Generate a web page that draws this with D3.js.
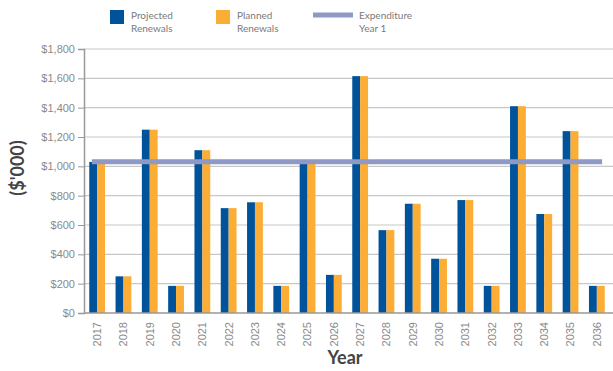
<!DOCTYPE html>
<html><head><meta charset="utf-8">
<script src="https://cdn.jsdelivr.net/npm/d3@7"></script>
<style>body{margin:0;background:#fff}svg{display:block;font-family:Lato,"Open Sans",sans-serif}</style>
</head><body><svg id="c" width="613" height="371"></svg>
<script>
const years = ["2017","2018","2019","2020","2021","2022","2023","2024","2025","2026","2027","2028","2029","2030","2031","2032","2033","2034","2035","2036"];
const projected = [1030,250,1250,185,1110,715,755,185,1025,260,1615,565,745,370,770,185,1410,675,1240,185];
const planned   = [1030,250,1250,185,1110,715,755,185,1025,260,1615,565,745,370,770,185,1410,675,1240,185];
const expenditureYear1 = 1031;
const yTicks = [0,200,400,600,800,1000,1200,1400,1600,1800];
const seriesNames = ["Projected\nRenewals","Planned\nRenewals","Expenditure\nYear 1"];
const colors = ["#00539b","#fbad35","#8e99c6"];

(function(){
const svg = d3.select("#c");
const pLeft = 84, pRight = 610, pTop = 49, pBottom = 313;
const x = d3.scaleBand().domain(years).range([pLeft, pRight]).paddingInner(0.4).paddingOuter(0.2);
const xs = d3.scaleBand().domain([0,1]).range([0, x.bandwidth()]);
const y = d3.scaleLinear().domain([0,1800]).range([pBottom, pTop]);

svg.append("g").selectAll("line").data(yTicks.slice(1)).join("line")
  .attr("x1", pLeft).attr("x2", 613).attr("y1", d=>y(d)).attr("y2", d=>y(d))
  .attr("stroke", "#c8c8c8").attr("stroke-width", 1.2);

const g = svg.append("g");
[projected, planned].forEach((s, i) => {
  g.selectAll(".b"+i).data(s).join("rect").attr("class","b"+i)
    .attr("x", (d,j)=>x(years[j]) + xs(i)).attr("width", xs.bandwidth())
    .attr("y", d=>y(d)).attr("height", d=>pBottom - y(d)).attr("fill", colors[i]);
});

svg.append("line")
  .attr("x1", x(years[0]) - x.step()*x.paddingInner()/2 + 0.3*x.step())
  .attr("x2", x(years[years.length-1]) - x.step()*x.paddingInner()/2 + 0.7*x.step())
  .attr("y1", y(expenditureYear1)).attr("y2", y(expenditureYear1))
  .attr("stroke", colors[2]).attr("stroke-width", 5);

const ya = svg.append("g").attr("transform", `translate(${pLeft},0)`)
  .call(d3.axisLeft(y).tickValues(yTicks).tickSize(6).tickPadding(3).tickFormat(d=>"$"+d3.format(",")(d)));
ya.select(".domain").attr("stroke","#999").attr("stroke-width",1.5);
ya.selectAll(".tick line").attr("stroke","#999");
ya.selectAll("text").attr("fill","#8a8a8a").attr("font-size",11);

const xa = svg.append("g").attr("transform", `translate(0,${pBottom})`)
  .call(d3.axisBottom(x).tickSize(0).tickPadding(0));
xa.select(".domain").attr("stroke","#999").attr("stroke-width",1.5).attr("d", `M${pLeft},0H613`);
xa.selectAll("text").attr("fill","#8a8a8a").attr("font-size",11)
  .attr("transform","rotate(-90)").attr("text-anchor","end").attr("dy","0.35em").attr("x",-9).attr("y",0);

svg.append("text").attr("transform","translate(24,168) rotate(-90)").attr("text-anchor","middle")
  .attr("font-size",18).attr("font-weight","bold").attr("fill","#444").text("($'000)");
svg.append("text").attr("x",345).attr("y",364).attr("text-anchor","middle")
  .attr("font-size",18).attr("font-weight","bold").attr("fill","#444").text("Year");

const lg = [{x:110, type:"rect"},{x:216, type:"rect"},{x:313, type:"line"}];
lg.forEach((l,i)=>{
  if (l.type==="rect") {
    svg.append("rect").attr("x",l.x).attr("y",10).attr("width",14).attr("height",14).attr("fill",colors[i]);
  } else {
    svg.append("line").attr("x1",l.x).attr("x2",l.x+40).attr("y1",15).attr("y2",15).attr("stroke",colors[i]).attr("stroke-width",5);
  }
  const tx = l.type==="rect" ? l.x+21 : l.x+46;
  const t = svg.append("text").attr("x",tx).attr("y",19).attr("font-size",10).attr("fill","#7a7a7a");
  seriesNames[i].split("\n").forEach((line,k)=>{
    t.append("tspan").attr("x",tx).attr("dy",k?13:0).text(line);
  });
});
})();
</script></body></html>
